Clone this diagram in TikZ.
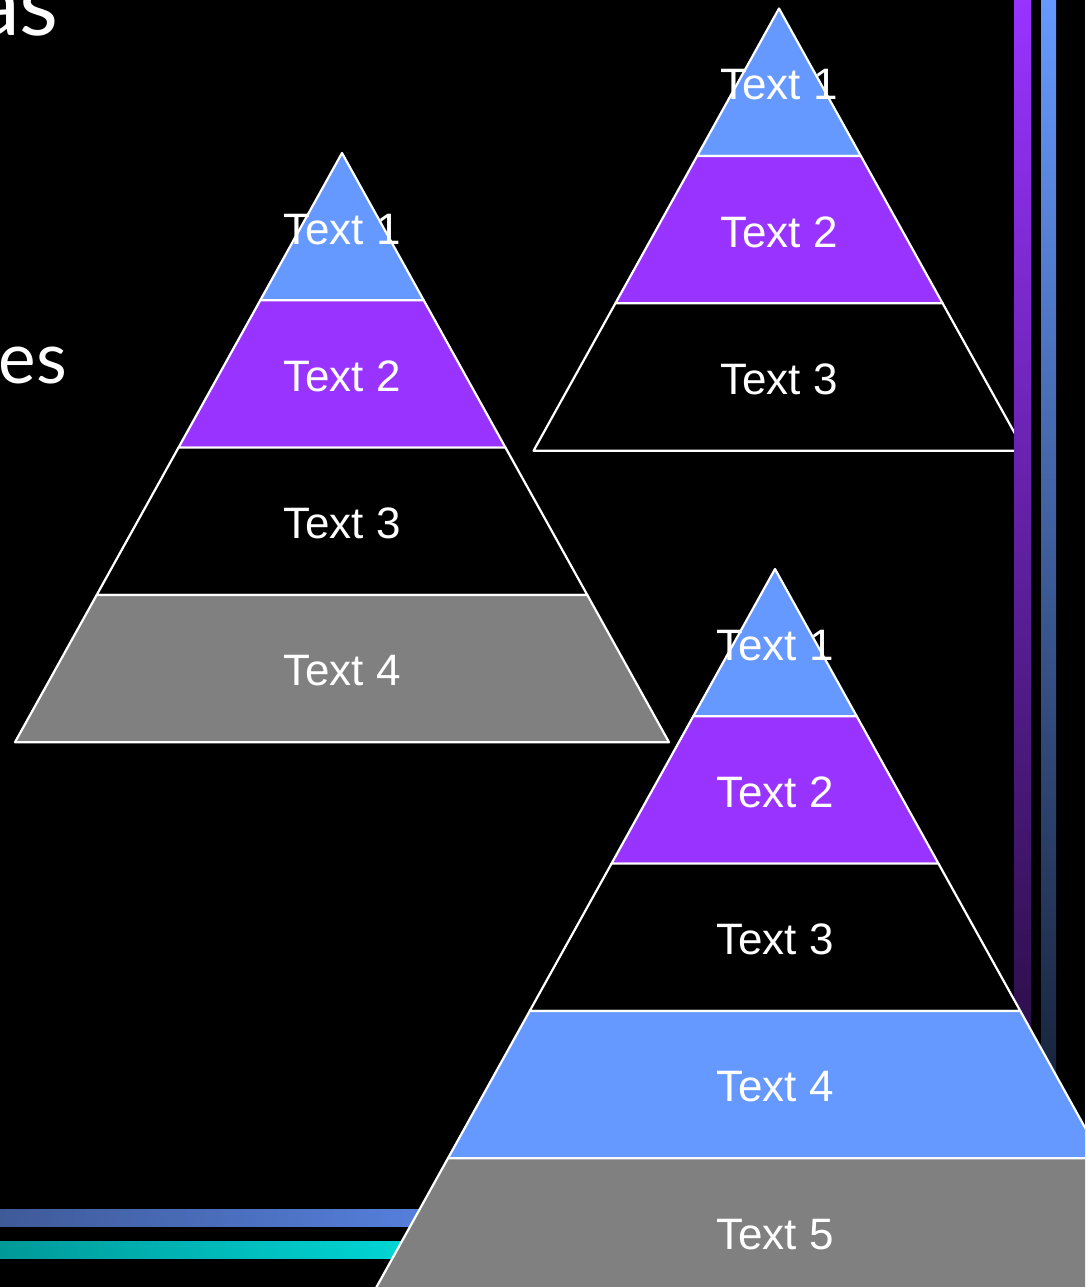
\documentclass[tikz,border=0pt]{standalone}
\usepackage{fontspec}
\setmainfont{Liberation Sans}
\newfontfamily\slidefont{Lato}
\definecolor{layerblue}{HTML}{6699FF}
\definecolor{layerpurple}{HTML}{9933FF}
\definecolor{layergray}{HTML}{808080}
\tikzstyle{layer}=[
    draw=white,
    line width=2.2pt,
    line join=round,
]
\tikzstyle{layertext}=[
    text=white,
    inner sep=0pt,
    font=\fontsize{44}{52}\selectfont,
]
\tikzstyle{slidetext}=[
    text=white,
    inner sep=0pt,
    font=\slidefont\fontsize{71}{80}\selectfont,
]

\begin{document}
\begin{tikzpicture}[x=1pt,y=-1pt]
        \useasboundingbox (0,0) rectangle (1085,1287);
        \clip (0,0) rectangle (1085,1287);
        \fill[black] (0,0) rectangle (1085,1287);
        % slide text cut off at the left
        \node[slidetext, anchor=base east, font=\slidefont\fontsize{90}{100}\selectfont] (title) at (59,36) {as};
        \node[slidetext, anchor=base east] (bullet) at (67,383) {es};
        % left pyramid
        \foreach \i/\col in {0/layerblue,1/layerpurple,2/black,3/layergray}
            \draw[layer, fill=\col] ({342-0.555*147.3*\i},{153+147.3*\i}) -- ({342+0.555*147.3*\i},{153+147.3*\i})
                -- ({342+0.555*147.3*(\i+1)},{153+147.3*(\i+1)}) -- ({342-0.555*147.3*(\i+1)},{153+147.3*(\i+1)}) -- cycle;
        \foreach \i in {1,...,4}
            \node[layertext] (a\i) at (342,{155.5+147.3*(\i-0.5)}) {Text \i};
        % top right pyramid
        \foreach \i/\col in {0/layerblue,1/layerpurple,2/black}
            \draw[layer, fill=\col] ({779-0.555*147.4*\i},{8.5+147.4*\i}) -- ({779+0.555*147.4*\i},{8.5+147.4*\i})
                -- ({779+0.555*147.4*(\i+1)},{8.5+147.4*(\i+1)}) -- ({779-0.555*147.4*(\i+1)},{8.5+147.4*(\i+1)}) -- cycle;
        \foreach \i in {1,...,3}
            \node[layertext] (b\i) at (779,{11+147.4*(\i-0.5)}) {Text \i};
        % bars at the side and the bottom
        \shade[top color=layerpurple, middle color=layerpurple!80!black, bottom color=layerpurple!25!black]
            (1014,0) rectangle (1031,1100);
        \shade[top color=layerblue, middle color=layerblue!75!black, bottom color=layerblue!22!black]
            (1041,0) rectangle (1056,1100);
        \shade[left color={rgb,255:red,63;green,90;blue,153}, right color={rgb,255:red,85;green,128;blue,221}]
            (0,1209) rectangle (430,1226);
        \shade[left color={rgb,255:red,0;green,153;blue,153}, right color={rgb,255:red,0;green,217;blue,217}]
            (0,1241) rectangle (430,1258);
        % bottom right pyramid
        \foreach \i/\col in {0/layerblue,1/layerpurple,2/black,3/layerblue,4/layergray}
            \draw[layer, fill=\col] ({775-0.555*147.3*\i},{569+147.3*\i}) -- ({775+0.555*147.3*\i},{569+147.3*\i})
                -- ({775+0.555*147.3*(\i+1)},{569+147.3*(\i+1)}) -- ({775-0.555*147.3*(\i+1)},{569+147.3*(\i+1)}) -- cycle;
        \foreach \i in {1,...,5}
            \node[layertext] (c\i) at (775,{571.5+147.3*(\i-0.5)}) {Text \i};
    \end{tikzpicture}
\end{document}
